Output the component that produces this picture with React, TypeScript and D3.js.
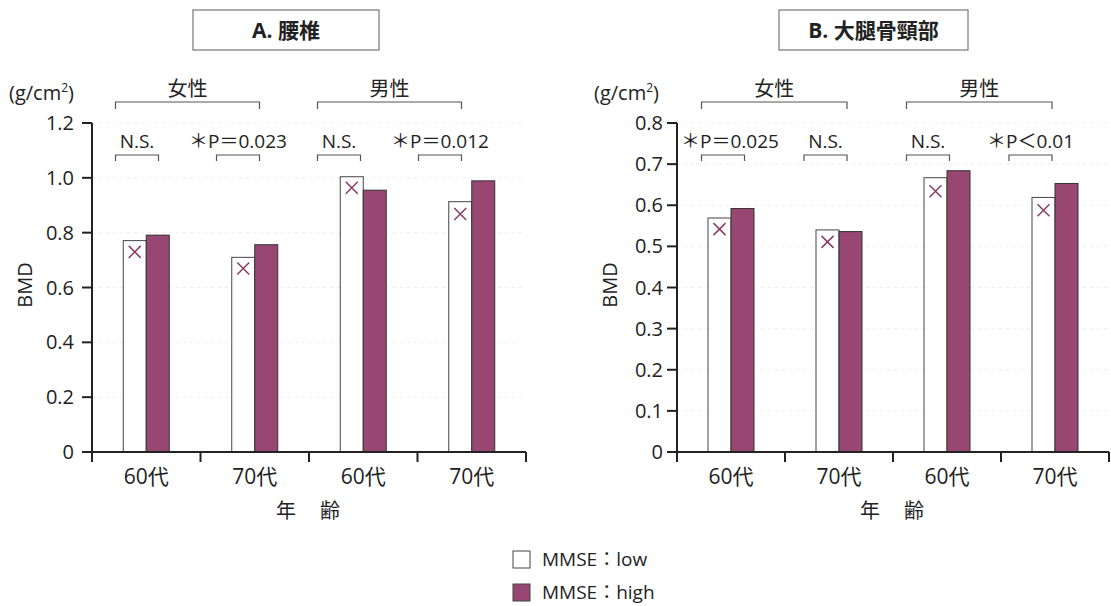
import React from 'react';
import * as d3 from 'd3';

// categories
const ageGroups = ['60代', '70代', '60代', '70代'];
const sexGroups = ['女性', '男性'];
const seriesNames = ['MMSE：low', 'MMSE：high'];

// A. 腰椎 (lumbar spine) BMD
const lumbarLow = [0.771, 0.71, 1.004, 0.913];
const lumbarHigh = [0.791, 0.756, 0.955, 0.989];
const lumbarMark = [0.73, 0.669, 0.964, 0.868];
const lumbarP = ['N.S.', '＊P＝0.023', 'N.S.', '＊P＝0.012'];
const lumbarTicks = [0, 0.2, 0.4, 0.6, 0.8, 1.0, 1.2];

// B. 大腿骨頸部 (femoral neck) BMD
const femurLow = [0.569, 0.54, 0.667, 0.619];
const femurHigh = [0.592, 0.536, 0.684, 0.653];
const femurMark = [0.542, 0.511, 0.634, 0.588];
const femurP = ['＊P＝0.025', 'N.S.', 'N.S.', '＊P＜0.01'];
const femurTicks = [0, 0.1, 0.2, 0.3, 0.4, 0.5, 0.6, 0.7, 0.8];

const FONT = '"Open Sans", "Noto Sans CJK JP", sans-serif';
const PURPLE = '#984772';
const MARK = '#8a3d63';
const INK = '#222';

type PanelProps = {
  title: string;
  titleBox: [number, number];
  x0: number;
  x1: number;
  annoRange: [number, number];
  low: number[];
  high: number[];
  mark: number[];
  pLabels: string[];
  ticks: number[];
  yMax: number;
  fmt: (d: number) => string;
  firstLabelDx?: number;
  tickGap: number;
};

const Panel = ({ title, titleBox, x0, x1, annoRange, low, high, mark, pLabels, ticks, yMax, fmt, firstLabelDx = 0, tickGap }: PanelProps) => {
  const y = d3.scaleLinear().domain([0, yMax]).range([452, 123]);
  const x = d3.scaleBand<number>().domain(d3.range(ageGroups.length)).range([x0, x1]);
  // annotations in the original sit on a slightly narrower grid
  const xa = d3.scaleBand<number>().domain(d3.range(ageGroups.length)).range(annoRange);
  const barW = 23;
  const half = 21.5;
  const base = y(0);

  const bracket = (a: number, b: number, top: number, drop: number) =>
    `M${a},${top + drop}V${top}H${b}V${top + drop}`;

  return (
    <g>
      {/* title box */}
      <rect x={titleBox[0]} y={10} width={titleBox[1] - titleBox[0]} height={40} fill="#fff" stroke="#777" strokeWidth={1.2} />
      <text x={(titleBox[0] + titleBox[1]) / 2} y={38} textAnchor="middle" fontSize={21} fontWeight="bold" fill={INK}>
        {title}
      </text>

      {/* unit */}
      <text x={x0 - 83} y={100} fontSize={20} fill={INK}>
        (g/cm<tspan dy={-8} fontSize={12}>2</tspan><tspan dy={8}>)</tspan>
      </text>

      {/* faint grid */}
      {ticks.slice(1).map((t) => (
        <line key={t} x1={x0} x2={x1} y1={y(t)} y2={y(t)} stroke="#eee" strokeDasharray="3,4" />
      ))}

      {/* bars */}
      {low.map((v, i) => {
        const c = x(i)! + x.bandwidth() / 2;
        return (
          <g key={i}>
            <rect x={c - barW} y={y(v)} width={barW} height={base - y(v)} fill="#fff" stroke="#444" strokeWidth={1} />
            <rect x={c} y={y(high[i])} width={barW} height={base - y(high[i])} fill={PURPLE} stroke="#333" strokeWidth={1} />
            <path
              d={`M${c - barW / 2 - 6},${y(mark[i]) - 6}l12,12M${c - barW / 2 + 6},${y(mark[i]) - 6}l-12,12`}
              stroke={MARK}
              strokeWidth={1.5}
            />
          </g>
        );
      })}

      {/* y axis */}
      <line x1={x0} x2={x0} y1={y(yMax)} y2={base + 10} stroke={INK} strokeWidth={2} />
      {ticks.map((t) => (
        <g key={t}>
          <line x1={x0 - 10} x2={x0} y1={y(t)} y2={y(t)} stroke={INK} strokeWidth={2} />
          <text x={x0 - 10 - tickGap} y={y(t)} dy="0.35em" textAnchor="end" fontSize={20} fill={INK}>
            {fmt(t)}
          </text>
        </g>
      ))}
      <text transform={`translate(${x0 - 67},285) rotate(-90)`} textAnchor="middle" dy="0.35em" fontSize={20} fill={INK}>
        BMD
      </text>

      {/* x axis */}
      <line x1={x0} x2={x1} y1={base} y2={base} stroke={INK} strokeWidth={2} />
      {d3.range(ageGroups.length + 1).map((i) => {
        const px = i === ageGroups.length ? x1 : x(i)!;
        return <line key={i} x1={px} x2={px} y1={base} y2={base + 10} stroke={INK} strokeWidth={2} />;
      })}
      {ageGroups.map((g, i) => (
        <text key={i} x={x(i)! + x.bandwidth() / 2} y={484} textAnchor="middle" fontSize={21} fill={INK}>
          {g}
        </text>
      ))}
      <text x={(x0 + x1) / 2} y={518} textAnchor="middle" fontSize={20} letterSpacing={2} fill={INK}>
        年　齢
      </text>

      {/* sex brackets */}
      {sexGroups.map((s, k) => {
        const a = xa(k * 2)! + xa.bandwidth() / 2 - half;
        const b = xa(k * 2 + 1)! + xa.bandwidth() / 2 + half;
        return (
          <g key={s}>
            <path d={bracket(a, b, 102, 7)} fill="none" stroke="#555" strokeWidth={1.2} />
            <text x={(a + b) / 2} y={96} textAnchor="middle" fontSize={20} fill={INK}>
              {s}
            </text>
          </g>
        );
      })}

      {/* significance brackets */}
      {pLabels.map((p, i) => {
        const c = xa(i)! + xa.bandwidth() / 2;
        return (
          <g key={i}>
            <path d={bracket(c - half, c + half, 155, 6)} fill="none" stroke="#555" strokeWidth={1.2} />
            <text x={c + (i === 0 ? firstLabelDx : 0)} y={148} textAnchor="middle" fontSize={19} fill={INK}>
              {p}
            </text>
          </g>
        );
      })}
    </g>
  );
};

const App = () => {
  return (
    <svg width={1111} height={606} style={{ position: 'absolute', left: 0, top: 0, fontFamily: FONT }}>
      <rect width={1111} height={606} fill="#fff" />
      <Panel
        title="A.  腰椎"
        titleBox={[193, 379]}
        x0={92}
        x1={526}
        annoRange={[86.5, 490.5]}
        low={lumbarLow}
        high={lumbarHigh}
        mark={lumbarMark}
        pLabels={lumbarP}
        ticks={lumbarTicks}
        yMax={1.2}
        fmt={(d) => (d === 0 ? '0' : d3.format('.1f')(d))}
        tickGap={8}
      />
      <Panel
        title="B.  大腿骨頸部"
        titleBox={[779, 968]}
        x0={677}
        x1={1109}
        annoRange={[671.75, 1081.75]}
        low={femurLow}
        high={femurHigh}
        mark={femurMark}
        pLabels={femurP}
        ticks={femurTicks}
        yMax={0.8}
        fmt={(d) => (d === 0 ? '0' : d3.format('.1f')(d))}
        firstLabelDx={7}
        tickGap={4}
      />

      {/* legend */}
      {seriesNames.map((n, i) => (
        <g key={n} transform={`translate(513,${551 + i * 33})`}>
          <rect width={17} height={17} fill={i === 0 ? '#fff' : PURPLE} stroke="#444" strokeWidth={1} />
          <text x={29} y={8} dy="0.35em" fontSize={19} fill={INK}>
            {n}
          </text>
        </g>
      ))}
    </svg>
  );
};

export default App;
